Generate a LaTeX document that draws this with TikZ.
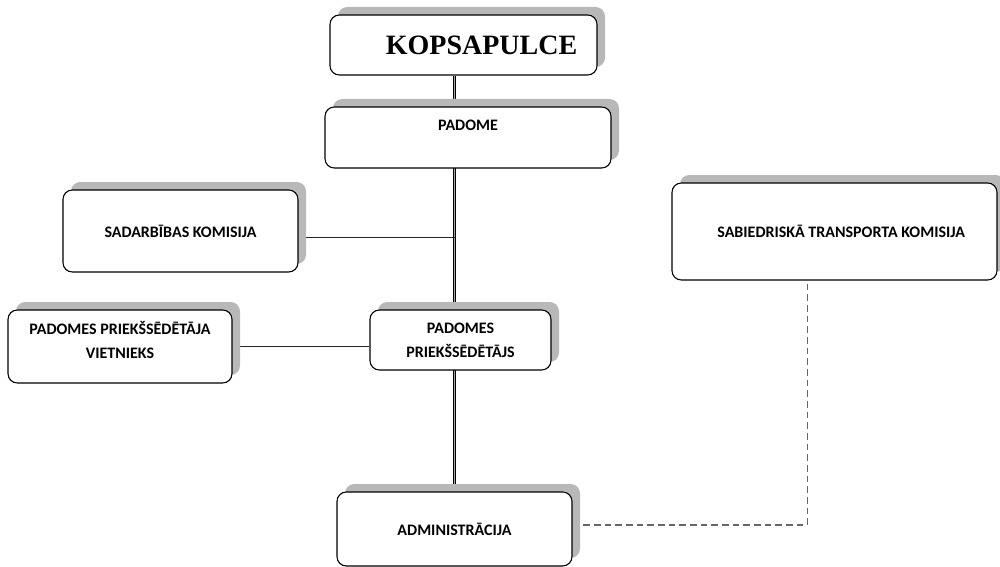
\documentclass[tikz,border=0pt]{standalone}
\usepackage{fontspec}
\setmainfont{Carlito}
\newfontfamily\titlefont{Liberation Serif}
\usetikzlibrary{shadows}
\usetikzlibrary{backgrounds}

\tikzset{
  orgbox/.style={draw=black, line width=.8pt, rounded corners=7pt, fill=white,
    align=center, font=\bfseries\fontsize{12}{18}\selectfont,
    drop shadow={shadow xshift=6pt, shadow yshift=6pt, fill=black!28, opacity=1}},
  trunk/.style={line width=.6pt, double=black!35, double distance=1.3pt},
  link/.style={line width=.7pt, black!85},
  dashlink/.style={line width=.9pt, black!60, dash pattern=on 5pt off 3pt}
}

\begin{document}
\begin{tikzpicture}[x=.75pt, y=-.75pt]
\useasboundingbox (0,0) rectangle (1000,567);

\node[orgbox, minimum width=200.25pt, minimum height=45pt, font=\titlefont\bfseries\fontsize{21}{24}\selectfont] (kop) at (463.5,45) {\hspace*{27pt}KOPSAPULCE};
\node[orgbox, minimum width=214.5pt, minimum height=45.75pt] (padome) at (468,137.5) {PADOME\\[0pt]};
\node[orgbox, minimum width=176.25pt, minimum height=61.5pt] (sadar) at (180.5,231) {SADARBĪBAS KOMISIJA};
\node[orgbox, minimum width=243.75pt, minimum height=72.75pt] (sabied) at (834.5,231.5) {\hspace*{10pt}SABIEDRISKĀ TRANSPORTA KOMISIJA};
\node[orgbox, minimum width=168pt, minimum height=54.75pt] (viet) at (120,346.5) {PADOMES PRIEKŠSĒDĒTĀJA\\VIETNIEKS\\[-8pt]};
\node[orgbox, minimum width=135.75pt, minimum height=45pt] (pried) at (460.5,340) {PADOMES\\PRIEKŠSĒDĒTĀJS};
\node[orgbox, minimum width=176.25pt, minimum height=55.5pt] (admin) at (454.5,529) {ADMINISTRĀCIJA};

\begin{scope}[on background layer]
\draw[trunk] (admin.north) -- (admin.north |- kop.south);
\draw[link] ([yshift=-5pt]sadar.east) -- ([yshift=-5pt]sadar.east -| admin.north);
\draw[link] (viet.east) -- (viet.east -| pried.west);
\draw[dashlink] ([yshift=3pt]admin.east) -| ([xshift=-20.5pt]sabied.south);
\end{scope}

\end{tikzpicture}
\end{document}
